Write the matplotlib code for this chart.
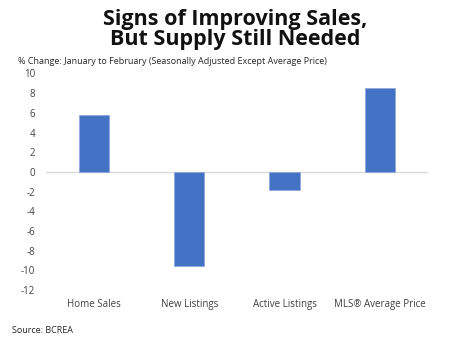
import numpy as np
import matplotlib.pyplot as plt

plt.rcParams['font.family'] = ['Open Sans', 'DejaVu Sans']

categories = ["Home Sales", "New Listings", "Active Listings", "MLS® Average Price"]
pct_change = [5.8, -9.6, -1.8, 8.5]
yticks = [10, 8, 6, 4, 2, 0, -2, -4, -6, -8, -10, -12]

fig = plt.figure(figsize=(4.71, 3.55), dpi=100)
ax = fig.add_axes([0.098, 0.183, 0.81, 0.61])

x = np.arange(len(categories))
ax.bar(x, pct_change, width=0.32, color="#4472C4", edgecolor="#8FAADC", linewidth=0.6, zorder=3)
ax.axhline(0, color="#D9D9D9", linewidth=1, zorder=2)

ax.set_xlim(-0.5, len(categories) - 0.5)
ax.set_ylim(-12, 10)
ax.set_yticks(yticks)
ax.set_yticklabels([str(t) for t in yticks], fontsize=7, color="#404040")
ax.set_xticks([])
for i, c in enumerate(categories):
    ax.text(i, -12.9, c, ha="center", va="top", fontsize=7, color="#404040")
ax.tick_params(axis="y", length=0, pad=8)
for s in ax.spines.values():
    s.set_visible(False)

fig.text(0.5, 0.975, "Signs of Improving Sales,\nBut Supply Still Needed",
         ha="center", va="top", fontsize=15.5, fontweight="bold", linespacing=0.95,
         family=["Open Sans", "DejaVu Sans"], color="#111111")
fig.text(0.038, 0.828, "% Change: January to February (Seasonally Adjusted Except Average Price)",
         ha="left", va="center", fontsize=6.5, color="#262626")
fig.text(0.025, 0.068, "Source: BCREA", ha="left", va="center", fontsize=6.5, color="#262626")

fig.savefig("out.png", dpi=100)
